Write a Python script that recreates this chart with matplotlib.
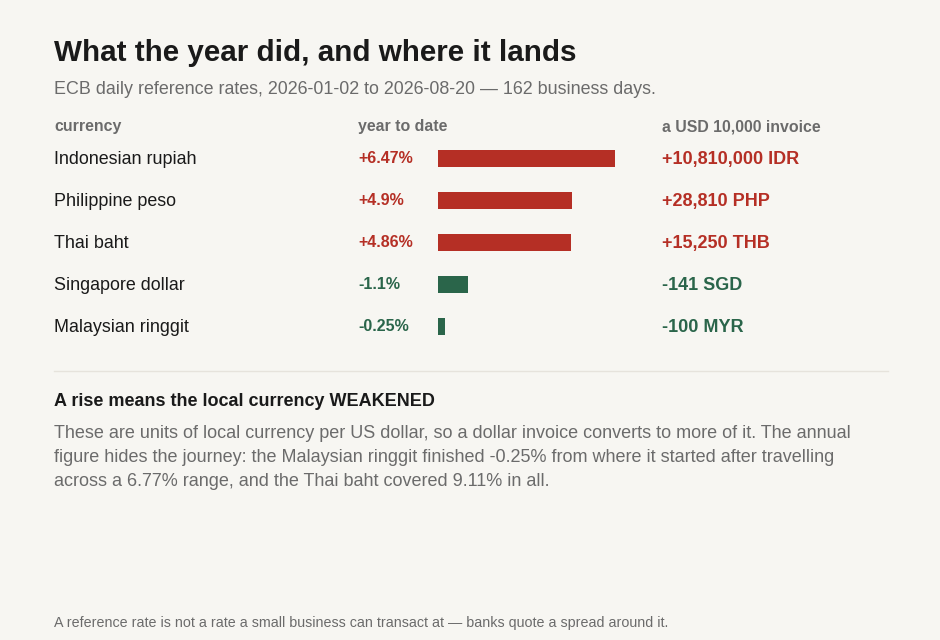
import matplotlib
matplotlib.use("Agg")
import matplotlib.pyplot as plt

plt.rcParams['font.family'] = ['Liberation Sans', 'DejaVu Sans']

currencies = ["Indonesian rupiah", "Philippine peso", "Thai baht", "Singapore dollar", "Malaysian ringgit"]
ytd_pct = [6.47, 4.9, 4.86, -1.1, -0.25]
ytd_labels = ["+6.47%", "+4.9%", "+4.86%", "-1.1%", "-0.25%"]
invoice_labels = ["+10,810,000 IDR", "+28,810 PHP", "+15,250 THB", "-141 SGD", "-100 MYR"]

BG = "#f7f6f2"
RED = "#b52f25"
GREEN = "#2a654a"
DARK = "#1a1a1a"
GRAY = "#6b6b6b"

W, H = 940, 640
fig = plt.figure(figsize=(W / 100, H / 100), dpi=100, facecolor=BG)

def fx(px):
    return px / W

def fy(py):
    return 1 - py / H

fig.text(fx(54), fy(53), "What the year did, and where it lands", fontsize=21.3,
         fontweight="bold", color=DARK, va="center", ha="left")
fig.text(fx(54), fy(89.5), "ECB daily reference rates, 2026-01-02 to 2026-08-20 \u2014 162 business days.",
         fontsize=12.9, color=GRAY, va="center", ha="left")

for x, t in [(54, "currency"), (358, "year to date"), (662, "a USD 10,000 invoice")]:
    fig.text(fx(x), fy(126.5), t, fontsize=11.4, fontweight="bold", color=GRAY, va="center", ha="left")

# bar axes: x from 438 px, 27.36 px per percent; rows centred at 158 + 42*i
px_per_pct = 27.36
xmax = 7.0
row0, row_step = 158.3, 42
top = row0 - row_step / 2
bottom = row0 + row_step * 4.5
ax = fig.add_axes([fx(438), fy(bottom), xmax * px_per_pct / W, (bottom - top) / H])
ax.set_xlim(0, xmax)
ax.set_ylim(len(currencies) - 0.5, -0.5)
ax.axis("off")
ax.patch.set_alpha(0)

colors = [RED if v > 0 else GREEN for v in ytd_pct]
ax.barh(range(len(currencies)), [abs(v) for v in ytd_pct], height=17 / row_step,
        color=colors, left=0)

for i, (name, pl, il, c) in enumerate(zip(currencies, ytd_labels, invoice_labels, colors)):
    yc = row0 + row_step * i
    fig.text(fx(54), fy(yc + 1.3), name, fontsize=12.9, color=DARK, va="center", ha="left")
    fig.text(fx(358), fy(yc), pl, fontsize=11.5, fontweight="bold", color=c, va="center", ha="left")
    fig.text(fx(662), fy(yc + 1), il, fontsize=13, fontweight="bold", color=c, va="center", ha="left")

fig.add_artist(plt.Line2D([fx(54), fx(888)], [fy(370.5), fy(370.5)], color="#e6e3dc", lw=1))

fig.text(fx(54), fy(401), "A rise means the local currency WEAKENED", fontsize=12.95,
         fontweight="bold", color=DARK, va="center", ha="left")
body = [
    "These are units of local currency per US dollar, so a dollar invoice converts to more of it. The annual",
    "figure hides the journey: the Malaysian ringgit finished -0.25% from where it started after travelling",
    "across a 6.77% range, and the Thai baht covered 9.11% in all.",
]
for k, line in enumerate(body):
    fig.text(fx(54), fy(433 + 24 * k), line, fontsize=13.0, color=GRAY, va="center", ha="left")

fig.text(fx(54), fy(622.5), "A reference rate is not a rate a small business can transact at \u2014 banks quote a spread around it.",
         fontsize=10.3, color=GRAY, va="center", ha="left")

fig.savefig("out.png", dpi=100, facecolor=BG)
